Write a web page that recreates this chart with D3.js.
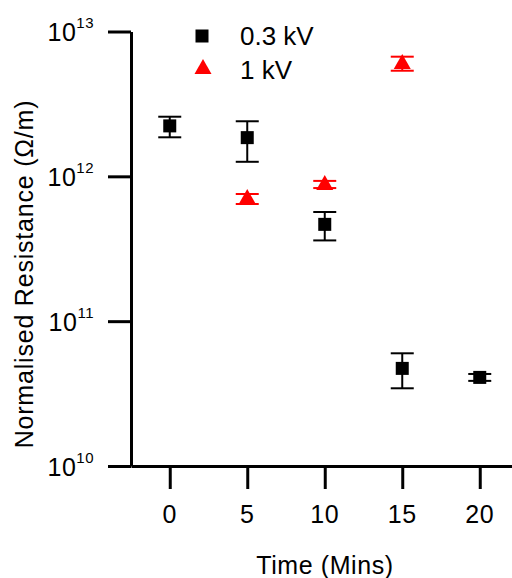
<!DOCTYPE html>
<html>
<head>
<meta charset="utf-8">
<script src="https://cdn.jsdelivr.net/npm/d3@7"></script>
<style>
    body { margin: 0; background: #fff; }
    text { font-family: 'Liberation Sans', Arial, sans-serif; fill: #000; }
</style>
</head>
<body>
<div id="chart"></div>
<script>
// 0.3 kV series
const lowTimes = [0, 5, 10, 15, 20];
const lowValues = [2.23e12, 1.85e12, 4.66e11, 4.72e10, 4.09e10];
const lowUpper = [2.58e12, 2.40e12, 5.67e11, 6.0e10, 4.32e10];
const lowLower = [1.86e12, 1.26e12, 3.61e11, 3.44e10, 3.87e10];

// 1 kV series
const highTimes = [5, 10, 15];
const highValues = [7.08e11, 8.85e11, 6.06e12];
const highUpper = [7.55e11, 9.3e11, 6.7e12];
const highLower = [6.44e11, 8.3e11, 5.36e12];

const xTicks = [0, 5, 10, 15, 20];
const yTicks = [1e10, 1e11, 1e12, 1e13];
const seriesNames = ['0.3 kV', '1 kV'];

const W = 512, H = 578;
const red = '#FF0000';

const svg = d3.select('#chart')
    .append('svg')
    .attr('width', W)
    .attr('height', H);

const x = d3.scaleLinear().domain([-2.5, 22.5]).range([131, 518.5]);
const y = d3.scaleLog().domain([1e10, 1e13]).range([466, 31.5]);

// axes
svg.append('g')
    .attr('transform', `translate(${x(-2.5)},0)`)
    .call(d3.axisLeft(y).tickValues(yTicks).tickSize(23).tickSizeOuter(0).tickFormat(''));

svg.append('g')
    .attr('transform', `translate(0,${y(1e10)})`)
    .call(d3.axisBottom(x).tickValues(xTicks).tickSize(23).tickSizeOuter(0).tickFormat(''));

svg.selectAll('.domain, .tick line')
    .attr('stroke', '#000')
    .attr('stroke-width', 3);

// y tick labels as 10^n
yTicks.forEach(t => {
    const lbl = svg.append('text')
        .attr('x', 94)
        .attr('y', y(t) + 9.5)
        .attr('text-anchor', 'end')
        .style('font-size', '25px')
        .style('letter-spacing', '0.5px');
    lbl.append('tspan').text('10');
    lbl.append('tspan')
        .attr('dy', -13)
        .style('font-size', '15px')
        .text(Math.round(Math.log10(t)));
});

// x tick labels
svg.selectAll('.xlabel')
    .data(xTicks)
    .enter()
    .append('text')
    .attr('class', 'xlabel')
    .attr('x', d => x(d))
    .attr('y', 523)
    .attr('text-anchor', 'middle')
    .style('font-size', '25px')
    .style('letter-spacing', '0.5px')
    .text(d => d);

// axis titles
svg.append('text')
    .attr('x', 325)
    .attr('y', 574)
    .attr('text-anchor', 'middle')
    .style('font-size', '25px')
    .style('letter-spacing', '0.6px')
    .text('Time (Mins)');

svg.append('text')
    .attr('transform', 'translate(33,274) rotate(-90)')
    .attr('text-anchor', 'middle')
    .style('font-size', '25px')
    .style('letter-spacing', '0.8px')
    .text('Normalised Resistance (Ω/m)');

// error bars
function errorBars (times, upper, lower, color) {
    const g = svg.append('g').attr('stroke', color).attr('stroke-width', 2);
    times.forEach((t, i) => {
        const cx = x(t);
        g.append('line')
            .attr('x1', cx).attr('x2', cx)
            .attr('y1', y(upper[i])).attr('y2', y(lower[i]));
        [upper[i], lower[i]].forEach(v => {
            g.append('line')
                .attr('x1', cx - 11.5).attr('x2', cx + 11.5)
                .attr('y1', y(v)).attr('y2', y(v));
        });
    });
}

errorBars(lowTimes, lowUpper, lowLower, '#000');
errorBars(highTimes, highUpper, highLower, red);

const sq = 13;
const tri = 'M0,-9L8.5,6L-8.5,6Z';

svg.selectAll('.low')
    .data(lowTimes)
    .enter()
    .append('rect')
    .attr('class', 'low')
    .attr('x', d => x(d) - sq / 2)
    .attr('y', (d, i) => y(lowValues[i]) - sq / 2)
    .attr('width', sq)
    .attr('height', sq)
    .attr('fill', '#000');

svg.selectAll('.high')
    .data(highTimes)
    .enter()
    .append('path')
    .attr('class', 'high')
    .attr('transform', (d, i) => `translate(${x(d)},${y(highValues[i])})`)
    .attr('d', tri)
    .attr('fill', red);

// legend
svg.append('rect')
    .attr('x', 202 - sq / 2)
    .attr('y', 36 - sq / 2)
    .attr('width', sq)
    .attr('height', sq)
    .attr('fill', '#000');

svg.append('path')
    .attr('transform', 'translate(203,68)')
    .attr('d', tri)
    .attr('fill', red);

svg.append('text')
    .attr('x', 240)
    .attr('y', 45)
    .style('font-size', '26px')
    .text(seriesNames[0]);

svg.append('text')
    .attr('x', 240)
    .attr('y', 79)
    .style('font-size', '26px')
    .text(seriesNames[1]);
</script>
</body>
</html>
